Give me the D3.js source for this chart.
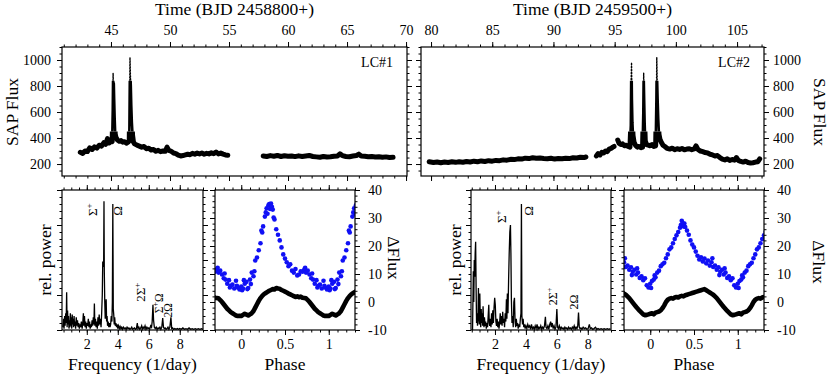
<!DOCTYPE html>
<html>
<head>
<meta charset="utf-8">
<script src="https://cdn.jsdelivr.net/npm/d3@7"></script>
<style>
body { margin: 0; background: #fff; }
svg text { font-family: "Liberation Serif", "Times New Roman", serif; fill: #000; }
</style>
</head>
<body>
<svg id="chart" width="830" height="377"></svg>
<script>
// ---- light curves [time, SAP flux] ----
var lc1Seg1 = [[42.40,290],[42.60,282],[42.80,300],[43.00,296],[43.20,325],[43.40,312],[43.60,332],[43.80,322],
  [44.00,345],[44.20,338],[44.40,365],[44.55,352],[44.70,395],[44.85,362],[45.00,380],[45.10,372],
  [45.15,620],[45.18,900],[45.21,760],[45.24,820],[45.27,700],[45.31,560],[45.36,430],[45.42,405],
  [45.55,385],[45.70,375],[45.85,380],[46.00,368],[46.15,372],[46.30,360],[46.45,368],[46.55,380],
  [46.58,700],[46.61,1020],[46.64,900],[46.68,800],[46.72,650],[46.77,520],[46.83,420],[46.90,370],
  [47.00,355],[47.20,345],[47.40,338],[47.60,330],[47.80,335],[48.00,318],[48.20,322],[48.40,308],
  [48.60,312],[48.80,298],[49.00,305],[49.20,295],[49.40,300],[49.60,298],[49.75,330],[49.90,305],
  [50.10,298],[50.30,285],[50.50,280],[50.70,268],[50.90,262],[51.10,265],[51.30,270],[51.50,275],
  [51.70,272],[51.90,282],[52.10,276],[52.30,284],[52.50,278],[52.70,285],[52.90,276],[53.10,282],
  [53.30,278],[53.50,286],[53.70,280],[53.90,292],[54.10,278],[54.30,284],[54.50,276],[54.70,270],[54.90,268]];
var lc1Seg2 = [[57.90,262],[58.20,258],[58.50,265],[58.80,260],[59.10,266],[59.40,258],[59.70,264],[60.00,260],
  [60.30,262],[60.60,257],[60.90,263],[61.20,258],[61.50,262],[61.80,266],[62.10,258],[62.40,255],
  [62.70,252],[63.00,258],[63.30,254],[63.60,256],[63.90,260],[64.20,262],[64.40,278],[64.60,265],
  [64.90,258],[65.20,256],[65.50,262],[65.80,266],[66.00,276],[66.20,262],[66.50,260],[66.80,256],
  [67.10,258],[67.40,254],[67.70,256],[68.00,252],[68.30,255],[68.60,250],[68.90,252]];

var lc2Seg1 = [[79.85,218],[80.2,212],[80.5,216],[80.8,210],[81.1,215],[81.4,212],[81.7,217],[82.0,213],
  [82.3,218],[82.6,214],[82.9,220],[83.2,216],[83.5,222],[83.8,218],[84.1,224],[84.4,220],[84.7,226],
  [85.0,222],[85.3,228],[85.6,226],[85.9,232],[86.2,230],[86.5,236],[86.8,234],[87.1,240],[87.4,238],
  [87.7,245],[88.0,242],[88.3,248],[88.6,244],[88.9,246],[89.2,242],[89.5,240],[89.8,244],[90.1,238],
  [90.4,242],[90.7,240],[91.0,244],[91.3,242],[91.6,248],[91.9,246],[92.2,252],[92.5,250],[92.65,254]];
var lc2Seg2 = [[93.50,262],[93.65,280],[93.80,270],[93.95,290],[94.10,285],[94.25,300],[94.40,295],
  [94.55,315],[94.70,320],[94.85,330],[94.95,335]];
var lc2Seg3 = [[95.25,385],[95.35,360],[95.50,350],[95.65,355],[95.80,340],[95.95,345],[96.10,335],[96.25,330],
  [96.32,500],[96.35,850],[96.38,980],[96.41,700],[96.45,520],[96.50,420],[96.58,370],[96.70,345],
  [96.85,330],[97.00,335],[97.15,325],[97.28,330],[97.34,600],[97.37,900],[97.41,700],[97.45,520],
  [97.50,380],[97.60,350],[97.75,345],[97.90,340],[98.05,350],[98.20,335],[98.35,340],[98.41,700],
  [98.44,1020],[98.47,850],[98.51,700],[98.56,550],[98.62,430],[98.70,390],[98.80,370],[98.95,345],
  [99.10,335],[99.30,320],[99.50,315],[99.70,322],[99.90,310],[100.10,318],[100.30,312],[100.50,320],
  [100.70,310],[100.90,315],[101.10,318],[101.30,310],[101.50,316],[101.65,340],[101.80,312],[102.00,300],
  [102.20,295],[102.40,288],[102.60,285],[102.80,275],[103.00,270],[103.20,262],[103.40,265],[103.60,250],
  [103.80,238],[104.00,232],[104.20,240],[104.40,228],[104.60,235],[104.80,230],[104.95,250],[105.10,228],
  [105.30,220],[105.50,215],[105.70,222],[105.90,212],[106.10,208],[106.30,210],[106.50,215],[106.70,218],[106.85,240]];

// ---- periodograms [frequency, relative power] ----
var power1 = [[0.45,0.02],[0.50,0.08],[0.53,0.01],[0.57,0.10],[0.60,0.03],[0.64,0.12],[0.67,0.05],[0.70,0.27],
  [0.73,0.02],[0.76,0.14],[0.79,0.04],[0.82,0.10],[0.85,0.01],[0.88,0.07],[0.91,0.02],[0.94,0.12],[0.97,0.03],
  [1.00,0.09],[1.03,0.01],[1.06,0.11],[1.09,0.04],[1.12,0.08],[1.15,0.02],[1.18,0.10],[1.21,0.03],[1.25,0.06],
  [1.28,0.01],[1.32,0.09],[1.36,0.03],[1.40,0.07],[1.44,0.02],[1.48,0.05],[1.52,0.01],[1.56,0.04],[1.60,0.02],
  [1.65,0.06],[1.70,0.01],[1.74,0.05],[1.78,0.12],[1.81,0.03],[1.85,0.10],[1.89,0.02],[1.93,0.06],[1.97,0.01],
  [2.01,0.05],[2.05,0.03],[2.10,0.08],[2.14,0.02],[2.18,0.06],[2.22,0.01],[2.26,0.04],[2.30,0.02],[2.34,0.07],
  [2.38,0.03],[2.42,0.09],[2.46,0.04],[2.49,0.19],[2.52,0.03],[2.56,0.08],[2.60,0.02],[2.64,0.06],[2.68,0.01],
  [2.72,0.09],[2.76,0.03],[2.80,0.11],[2.84,0.04],[2.88,0.08],[2.92,0.02],[2.96,0.12],[3.00,0.25],[3.03,0.49],
  [3.06,0.45],[3.09,0.50],[3.11,0.92],[3.13,0.42],[3.16,0.20],[3.19,0.08],[3.22,0.15],[3.25,0.22],[3.28,0.06],
  [3.31,0.10],[3.34,0.03],[3.38,0.06],[3.42,0.02],[3.46,0.05],[3.50,0.02],[3.54,0.04],[3.58,0.10],[3.62,0.06],
  [3.65,0.20],[3.68,0.90],[3.71,0.15],[3.74,0.11],[3.77,0.04],[3.80,0.09],[3.84,0.03],[3.88,0.05],[3.92,0.02],
  [3.96,0.04],[4.00,0.01],[4.05,0.03],[4.10,0.01],[4.15,0.025],[4.20,0.01],[4.25,0.02],[4.30,0.005],[4.36,0.02],
  [4.42,0.01],[4.48,0.015],[4.54,0.005],[4.60,0.02],[4.66,0.01],[4.72,0.015],[4.78,0.005],[4.84,0.01],[4.90,0.02],
  [4.96,0.005],[5.02,0.01],[5.08,0.015],[5.14,0.005],[5.20,0.01],[5.26,0.05],[5.30,0.01],[5.36,0.02],[5.42,0.005],
  [5.48,0.015],[5.54,0.03],[5.58,0.005],[5.64,0.02],[5.70,0.01],[5.76,0.03],[5.82,0.005],[5.88,0.02],[5.94,0.01],
  [6.00,0.015],[6.06,0.005],[6.12,0.03],[6.18,0.02],[6.22,0.06],[6.27,0.18],[6.31,0.07],[6.36,0.02],[6.42,0.01],
  [6.48,0.02],[6.54,0.005],[6.60,0.015],[6.66,0.01],[6.72,0.02],[6.78,0.005],[6.84,0.02],[6.90,0.085],[6.95,0.02],
  [7.00,0.01],[7.06,0.015],[7.12,0.005],[7.18,0.01],[7.24,0.02],[7.30,0.005],[7.36,0.02],[7.43,0.09],[7.48,0.01],
  [7.54,0.015],[7.60,0.005],[7.68,0.01],[7.76,0.005],[7.84,0.01],[7.92,0.005],[8.00,0.01],[8.10,0.005],[8.20,0.015],
  [8.30,0.005],[8.40,0.01],[8.50,0.005],[8.60,0.015],[8.70,0.005],[8.80,0.01],[8.90,0.005],[9.00,0.01],[9.10,0.005],
  [9.20,0.01],[9.30,0.005],[9.40,0.01],[9.50,0.005]];
var power2 = [[0.55,0.00],[0.60,0.42],[0.63,0.20],[0.66,0.50],[0.69,0.38],[0.72,0.55],[0.75,0.63],[0.78,0.30],
  [0.81,0.05],[0.84,0.12],[0.87,0.03],[0.90,0.08],[0.93,0.30],[0.96,0.10],[0.99,0.04],[1.02,0.26],[1.05,0.08],
  [1.08,0.02],[1.11,0.15],[1.14,0.05],[1.17,0.12],[1.20,0.03],[1.23,0.17],[1.26,0.06],[1.29,0.02],[1.32,0.09],
  [1.36,0.03],[1.40,0.06],[1.44,0.01],[1.48,0.05],[1.52,0.02],[1.56,0.10],[1.60,0.18],[1.63,0.05],[1.66,0.03],
  [1.70,0.08],[1.74,0.02],[1.78,0.12],[1.82,0.04],[1.86,0.14],[1.90,0.05],[1.94,0.16],[1.98,0.23],[2.02,0.18],
  [2.06,0.06],[2.10,0.03],[2.14,0.08],[2.18,0.02],[2.22,0.06],[2.26,0.01],[2.30,0.05],[2.34,0.12],[2.38,0.04],
  [2.42,0.10],[2.46,0.03],[2.50,0.13],[2.54,0.05],[2.58,0.08],[2.62,0.02],[2.66,0.12],[2.70,0.06],[2.74,0.22],
  [2.77,0.08],[2.80,0.26],[2.84,0.12],[2.88,0.35],[2.92,0.55],[2.96,0.70],[3.00,0.75],[3.03,0.55],[3.06,0.22],
  [3.10,0.05],[3.14,0.10],[3.18,0.02],[3.22,0.20],[3.26,0.23],[3.30,0.06],[3.34,0.02],[3.38,0.08],[3.42,0.03],
  [3.46,0.05],[3.50,0.01],[3.55,0.04],[3.60,0.02],[3.64,0.08],[3.68,0.12],[3.71,0.90],[3.74,0.10],[3.78,0.04],
  [3.82,0.08],[3.86,0.02],[3.90,0.04],[3.95,0.01],[4.00,0.03],[4.06,0.01],[4.12,0.04],[4.18,0.02],[4.24,0.03],
  [4.30,0.005],[4.36,0.04],[4.42,0.01],[4.48,0.02],[4.54,0.005],[4.60,0.03],[4.66,0.01],[4.72,0.04],[4.78,0.005],
  [4.84,0.02],[4.90,0.01],[4.96,0.03],[5.02,0.005],[5.08,0.02],[5.14,0.01],[5.20,0.03],[5.26,0.095],[5.30,0.02],
  [5.36,0.01],[5.42,0.03],[5.48,0.005],[5.54,0.04],[5.60,0.06],[5.64,0.02],[5.70,0.05],[5.76,0.01],[5.82,0.03],
  [5.88,0.005],[5.94,0.02],[6.00,0.15],[6.05,0.02],[6.10,0.01],[6.16,0.03],[6.22,0.005],[6.28,0.02],[6.34,0.01],
  [6.40,0.015],[6.46,0.005],[6.52,0.02],[6.58,0.01],[6.64,0.015],[6.70,0.005],[6.76,0.02],[6.82,0.01],[6.88,0.015],
  [6.94,0.005],[7.00,0.02],[7.06,0.01],[7.12,0.03],[7.18,0.005],[7.24,0.02],[7.30,0.01],[7.35,0.03],[7.40,0.125],
  [7.45,0.02],[7.50,0.01],[7.56,0.015],[7.62,0.005],[7.70,0.02],[7.78,0.01],[7.86,0.015],[7.94,0.005],[8.02,0.01],
  [8.10,0.04],[8.16,0.01],[8.24,0.015],[8.32,0.005],[8.40,0.01],[8.50,0.02],[8.58,0.005],[8.66,0.01],[8.76,0.005],
  [8.86,0.01],[8.96,0.005],[9.06,0.01],[9.16,0.005],[9.26,0.01],[9.36,0.005],[9.46,0.01]];

// ---- folded light curves [phase 0..1, delta flux] ----
var foldBlue1 = [[0.00,5.5],[0.01,4.2],[0.02,4.8],[0.03,7.8],[0.04,6.5],[0.06,7.2],[0.07,4.6],[0.08,5.0],[0.10,8.0],
  [0.11,6.4],[0.12,10.5],[0.14,9.2],[0.15,11.0],[0.16,14.8],[0.18,15.9],[0.20,18.5],[0.22,21.0],[0.23,25.5],
  [0.24,24.8],[0.25,27.0],[0.27,30.5],[0.28,32.0],[0.29,33.5],[0.30,31.5],[0.31,34.5],[0.32,35.0],[0.33,33.2],
  [0.34,35.2],[0.35,34.0],[0.36,33.0],[0.37,30.2],[0.38,29.5],[0.40,26.0],[0.42,24.0],[0.44,22.0],[0.46,19.5],
  [0.48,17.0],[0.50,15.5],[0.52,14.2],[0.54,12.8],[0.56,13.5],[0.58,11.2],[0.60,10.5],[0.62,11.8],[0.64,9.5],
  [0.66,9.8],[0.68,11.0],[0.70,10.8],[0.72,11.6],[0.73,12.2],[0.74,10.5],[0.76,11.2],[0.78,9.8],[0.80,8.5],
  [0.81,10.2],[0.82,8.0],[0.84,6.5],[0.86,7.8],[0.87,5.2],[0.88,5.8],[0.90,6.2],[0.92,4.8],[0.94,7.6],[0.95,5.8],
  [0.96,5.2],[0.98,4.5]];
var foldBlack1 = [[0.00,-5.0],[0.02,-4.6],[0.04,-4.2],[0.06,-4.5],[0.08,-4.8],[0.10,-4.4],[0.12,-4.0],[0.14,-3.2],
  [0.16,-2.0],[0.18,-0.8],[0.20,0.4],[0.22,1.4],[0.24,2.2],[0.26,2.8],[0.28,3.2],[0.30,3.6],[0.32,4.0],[0.34,4.3],
  [0.36,4.6],[0.38,4.5],[0.40,5.0],[0.42,4.8],[0.44,4.7],[0.46,4.3],[0.48,4.0],[0.50,3.7],[0.52,3.4],[0.54,3.0],
  [0.56,2.7],[0.58,2.4],[0.60,2.1],[0.62,1.8],[0.64,2.0],[0.66,1.7],[0.68,1.9],[0.70,1.5],[0.72,1.4],[0.74,1.3],
  [0.76,0.7],[0.78,0.0],[0.80,-0.8],[0.82,-1.6],[0.84,-2.4],[0.86,-3.0],[0.88,-3.6],[0.90,-4.0],[0.92,-4.4],
  [0.94,-4.8],[0.96,-5.0],[0.98,-4.9]];
var foldBlue2 = [[0.00,6.5],[0.01,5.0],[0.02,7.5],[0.04,8.0],[0.05,9.5],[0.06,8.8],[0.08,10.5],[0.10,11.2],[0.12,12.8],
  [0.14,13.5],[0.16,14.0],[0.18,15.6],[0.20,17.0],[0.22,18.8],[0.24,19.5],[0.26,21.0],[0.28,22.5],[0.30,23.8],
  [0.32,25.0],[0.34,26.5],[0.35,27.5],[0.36,29.0],[0.37,28.2],[0.38,27.0],[0.39,28.0],[0.40,26.8],[0.42,25.5],
  [0.44,24.0],[0.46,22.0],[0.48,20.5],[0.50,19.5],[0.52,18.0],[0.54,16.5],[0.56,15.2],[0.58,16.0],[0.60,14.5],
  [0.62,15.5],[0.64,13.8],[0.66,14.8],[0.68,13.0],[0.70,14.2],[0.71,15.6],[0.72,12.5],[0.74,13.0],[0.76,11.5],
  [0.78,12.4],[0.79,9.6],[0.80,10.8],[0.82,11.5],[0.84,9.8],[0.85,12.0],[0.86,10.5],[0.88,8.6],[0.90,9.2],
  [0.92,7.8],[0.94,8.5],[0.96,6.0],[0.98,5.2]];
var foldBlack2 = [[0.00,-4.2],[0.02,-4.0],[0.04,-4.4],[0.06,-3.8],[0.08,-3.6],[0.10,-3.4],[0.12,-3.0],[0.14,-2.2],
  [0.16,-1.2],[0.18,0.0],[0.20,0.8],[0.22,1.2],[0.24,1.4],[0.26,1.2],[0.28,1.6],[0.30,1.8],[0.32,1.6],[0.34,2.0],
  [0.36,2.2],[0.38,2.0],[0.40,2.4],[0.42,2.6],[0.44,2.8],[0.46,3.0],[0.48,3.2],[0.50,3.4],[0.52,3.6],[0.54,3.8],
  [0.56,4.0],[0.58,4.2],[0.60,4.4],[0.62,4.6],[0.64,4.2],[0.66,3.8],[0.68,3.4],[0.70,3.0],[0.72,2.6],[0.74,2.0],
  [0.76,1.4],[0.78,0.6],[0.80,-0.2],[0.82,-1.0],[0.84,-1.8],[0.86,-2.5],[0.88,-3.2],[0.90,-3.8],[0.92,-4.4],
  [0.94,-4.7],[0.96,-4.6],[0.98,-4.4]];

// ---- tick labels ----
var timeTicks1 = [45, 50, 55, 60, 65, 70];
var timeTicks2 = [80, 85, 90, 95, 100, 105];
var sapTicks = [200, 400, 600, 800, 1000];
var freqTicks = [2, 4, 6, 8];
var phaseTicks = [0, 0.5, 1];
var dfluxTicks = [-10, 0, 10, 20, 30, 40];
var powerTicks = [0, 0.25, 0.5, 0.75, 1];

var svg = d3.select('#chart');
var serif = '"Liberation Serif", "Times New Roman", serif';

function steps(lo, hi, step) {
  return d3.range(Math.ceil(lo / step - 1e-9), Math.floor(hi / step + 1e-9) + 1).map(i => +(i * step).toFixed(6));
}

function axis(scale, side, pos, major, minorStep, labelled, pad) {
  var mk = {top: d3.axisTop, bottom: d3.axisBottom, left: d3.axisLeft, right: d3.axisRight}[side];
  var horiz = side == 'top' || side == 'bottom';
  var tr = horiz ? `translate(0,${pos})` : `translate(${pos},0)`;
  var dom = scale.domain();
  var minor = steps(d3.min(dom), d3.max(dom), minorStep);
  var g1 = svg.append('g').attr('transform', tr)
    .call(mk(scale).tickValues(minor).tickSize(2.5).tickSizeOuter(0).tickFormat(''));
  var g2 = svg.append('g').attr('transform', tr)
    .call(mk(scale).tickValues(major).tickSize(5).tickSizeOuter(0).tickPadding(pad)
      .tickFormat(labelled ? (d => String(d)) : ''));
  [g1, g2].forEach(g => {
    g.select('.domain').remove();
    g.attr('font-family', serif).attr('font-size', 14);
    g.selectAll('line').attr('stroke', '#000').attr('stroke-width', 1);
  });
}

function frame(x, y) {
  svg.append('rect')
    .attr('x', x.range()[0]).attr('y', y.range()[1])
    .attr('width', x.range()[1] - x.range()[0]).attr('height', y.range()[0] - y.range()[1])
    .attr('fill', 'none').attr('stroke', '#000').attr('stroke-width', 1.2);
}

function label(txt, x, y, rot, size) {
  svg.append('text')
    .attr('transform', `translate(${x},${y}) rotate(${rot})`)
    .attr('text-anchor', 'middle').attr('dy', rot ? '0.35em' : 0)
    .attr('font-size', size || 17.5).text(txt);
}

// rotated peak label, parts: [text, superscript?]
function peakLabel(x, y, l) {
  var fs = l.size || 13;
  var t = svg.append('text')
    .attr('transform', `translate(${x(l.f)},${y(l.p)}) rotate(-90)`)
    .attr('text-anchor', 'middle').attr('dy', '0.35em').attr('font-size', fs);
  var shift = 0;
  l.parts.forEach(pt => {
    var s = pt[1] ? -0.4 * fs : 0;
    t.append('tspan').attr('dy', s - shift).attr('font-size', pt[1] ? fs * 0.7 : fs).text(pt[0]);
    shift = s;
  });
}

// repeat folded points one cycle each way, keep those in the plotted window
function unfold(pts) {
  var out = [];
  [-1, 0, 1].forEach(k => pts.forEach(d => {
    var ph = d[0] + k;
    if (ph >= -0.32 && ph <= 1.32) out.push([ph, d[1]]);
  }));
  return out.sort((a, b) => a[0] - b[0]);
}

// ---------- top row: light curves ----------
// the scatter band is dense near quiescence and thins out towards the outburst peaks
var bands = [{lo: 108, hi: 450, w: 5, dash: null}, {lo: 450, hi: 840, w: 2.6, dash: null},
             {lo: 840, hi: 1100, w: 1.4, dash: '1.2,1.8'}];

function lightCurve(x0, x1, dom, segs, ticks, leftLab, lcName) {
  var x = d3.scaleLinear().domain(dom).range([x0, x1]);
  var y = d3.scaleLinear().domain([108, 1100]).range([176, 47]);
  var line = d3.line().x(d => x(d[0])).y(d => y(d[1]));
  bands.forEach((b, i) => {
    var id = 'lc' + x0 + '_' + i;
    svg.append('clipPath').attr('id', id).append('rect')
      .attr('x', x0).attr('y', y(b.hi)).attr('width', x1 - x0).attr('height', y(b.lo) - y(b.hi));
    var g = svg.append('g').attr('clip-path', `url(#${id})`);
    segs.forEach(s => {
      g.append('path').datum(s).attr('d', line)
        .attr('fill', 'none').attr('stroke', '#000').attr('stroke-width', b.w)
        .attr('stroke-dasharray', b.dash)
        .attr('stroke-linejoin', 'round').attr('stroke-linecap', 'round');
    });
  });
  frame(x, y);
  axis(x, 'top', 47, ticks, 1, true, 7);
  axis(x, 'bottom', 176, ticks, 1, false, 3);
  axis(y, 'left', x0, sapTicks, 50, leftLab, 6);
  axis(y, 'right', x1, sapTicks, 50, !leftLab, 4);
  svg.append('text').attr('x', x1 - 14).attr('y', 67).attr('text-anchor', 'end')
    .attr('font-size', 14).text(lcName);
  return x;
}

lightCurve(62, 407, [40.85, 70.08], [lc1Seg1, lc1Seg2], timeTicks1, true, 'LC#1');
lightCurve(421, 764, [79.18, 107.2], [lc2Seg1, lc2Seg2, lc2Seg3], timeTicks2, false, 'LC#2');

label('Time (BJD 2458800+)', 234.5, 15, 0);
label('Time (BJD 2459500+)', 592.5, 15, 0);
label('SAP Flux', 12, 112, -90);
label('SAP Flux', 820, 112, 90);

// ---------- bottom row: periodograms and folded curves ----------
function periodogram(x0, x1, dom, data, labels) {
  var x = d3.scaleLinear().domain(dom).range([x0, x1]);
  var y = d3.scaleLinear().domain([0, 1]).range([330, 190]);
  svg.append('path').datum(data)
    .attr('d', d3.line().x(d => x(d[0])).y(d => y(d[1])))
    .attr('fill', 'none').attr('stroke', '#000').attr('stroke-width', 1.3);
  frame(x, y);
  axis(x, 'bottom', 330, freqTicks, 0.5, true, 4);
  axis(x, 'top', 190, freqTicks, 0.5, false, 3);
  axis(y, 'left', x0, powerTicks, 0.05, false, 3);
  axis(y, 'right', x1, powerTicks, 0.05, false, 3);
  labels.forEach(l => peakLabel(x, y, l));
  label('Frequency (1/day)', (x0 + x1) / 2, 370, 0);
}

function folded(x0, x1, blue, black) {
  var x = d3.scaleLinear().domain([-0.3, 1.3]).range([x0, x1]);
  var y = d3.scaleLinear().domain([-10, 40]).range([330, 190]);
  var clipId = 'clip' + x0;
  svg.append('clipPath').attr('id', clipId).append('rect')
    .attr('x', x0).attr('y', 190).attr('width', x1 - x0).attr('height', 140);
  var g = svg.append('g').attr('clip-path', `url(#${clipId})`);
  g.append('path').datum(unfold(black))
    .attr('d', d3.line().x(d => x(d[0])).y(d => y(d[1])))
    .attr('fill', 'none').attr('stroke', '#000').attr('stroke-width', 4.6)
    .attr('stroke-linejoin', 'round');
  g.selectAll('circle.b').data(unfold(blue)).enter().append('circle')
    .attr('cx', d => x(d[0])).attr('cy', d => y(d[1])).attr('r', 2.3)
    .attr('fill', '#1010f5');
  frame(x, y);
  axis(x, 'bottom', 330, phaseTicks, 0.1, true, 4);
  axis(x, 'top', 190, phaseTicks, 0.1, false, 3);
  axis(y, 'left', x0, dfluxTicks, 2, false, 3);
  axis(y, 'right', x1, dfluxTicks, 2, true, 8);
  label('Phase', (x0 + x1) / 2, 370, 0);
}

var sig = ['Σ', 0], plus = ['+', 1], om = ['Ω', 0], two = ['2', 0];
periodogram(62, 203, [0.4, 9.5], power1, [
  {f: 2.66, p: 0.86, parts: [sig, plus]},
  {f: 4.27, p: 0.85, parts: [om]},
  {f: 5.76, p: 0.27, parts: [two, sig, plus]},
  {f: 6.90, p: 0.19, parts: [sig, plus, om], size: 11.5},
  {f: 7.50, p: 0.14, parts: [two, om], size: 11.5}
]);
periodogram(471, 611, [0.45, 9.5], power2, [
  {f: 2.71, p: 0.81, parts: [sig, plus]},
  {f: 4.46, p: 0.85, parts: [om]},
  {f: 6.01, p: 0.24, parts: [two, sig, plus], size: 12},
  {f: 7.37, p: 0.20, parts: [two, om], size: 12}
]);
folded(215, 355, foldBlue1, foldBlack1);
folded(624, 764, foldBlue2, foldBlack2);

label('rel. power', 45, 260, -90);
label('rel. power', 455, 260, -90);
label('ΔFlux', 394, 258, 90);
label('ΔFlux', 819, 262, 90);
</script>
</body>
</html>
